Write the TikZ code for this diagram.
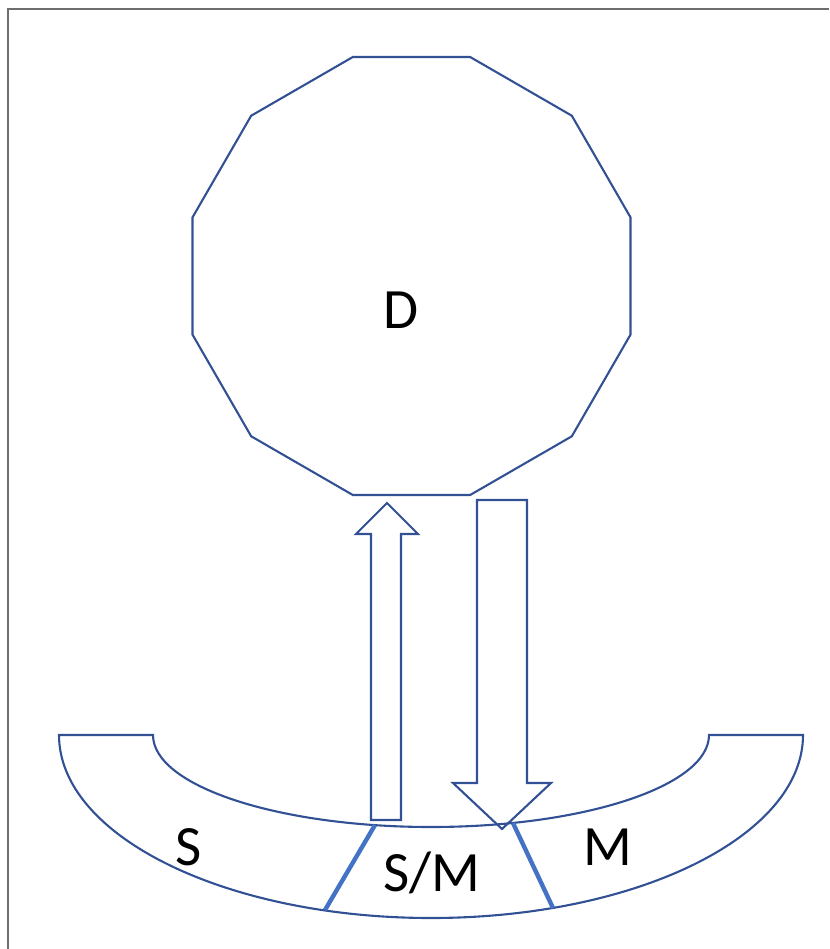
\documentclass[tikz,border=0pt]{standalone}
\usepackage{fontspec}
\setmainfont{Carlito}
\usetikzlibrary{shapes.geometric}
\definecolor{outl}{RGB}{50,80,148}
\definecolor{divl}{RGB}{68,114,196}
\definecolor{framec}{RGB}{110,110,110}
\tikzset{
  outline/.style={draw=outl,line width=2.1pt,line join=miter},
  divider/.style={draw=divl,line width=4.4pt},
  lbl/.style={font=\fontsize{57}{60}\selectfont,text=black,inner sep=0pt},
  framel/.style={draw=framec,line width=2pt}
}
\begin{document}
\begin{tikzpicture}[x=1pt,y=-1pt]
\useasboundingbox (0,0) rectangle (829,949);
% frame (top and left only)
\coordinate (fTL) at (7.7,9);
\coordinate (fTR) at (829,9);
\coordinate (fBL) at (7.7,949);
\draw[framel] (fTR) -- (fTL) -- (fBL);
% dodecagon
\node[outline,regular polygon,regular polygon sides=12,minimum size=453.4pt,inner sep=0pt,outer sep=0pt] (dodec) at (411.5,276) {};
\node[lbl] (labD) at (401,310) {D};
% band
\draw[outline] (59,735) -- (153,735)
  arc[start angle=180,end angle=0,x radius=278,y radius=92] -- (803,735)
  arc[start angle=0,end angle=180,x radius=372,y radius=183] -- cycle;
% dividers
\coordinate (dLi) at (375,825);
\coordinate (dLo) at (325,910);
\coordinate (dRi) at (513,823);
\coordinate (dRo) at (553,908);
\draw[divider] (dLi) -- (dLo);
\draw[divider] (dRi) -- (dRo);
% up block arrow
\draw[outline] (371,820) -- (371,534) -- (356,534) -- (387,503) -- (418,534) -- (401,534) -- (401,820) -- cycle;
% down block arrow
\draw[outline] (477,500) -- (527,500) -- (527,783) -- (551,783) -- (502,829) -- (453,783) -- (477,783) -- cycle;
% labels
\node[lbl] (labS) at (189,847) {S};
\node[lbl] (labSM) at (432,873) {S/M};
\node[lbl] (labM) at (608,847) {M};
\end{tikzpicture}
\end{document}
